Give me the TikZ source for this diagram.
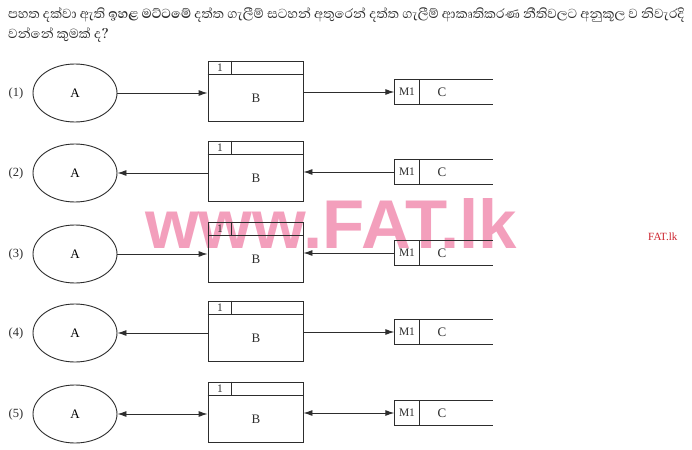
\documentclass[tikz,border=0pt]{standalone}
\usepackage{fontspec}
\setmainfont{Liberation Serif}
\newfontfamily\sinhala[Script=Sinhala]{Abhaya Libre}
\newfontfamily\wmfont{Liberation Sans}
\usetikzlibrary{shapes.geometric,arrows.meta}
\definecolor{ink}{RGB}{45,45,45}
\definecolor{wmpink}{RGB}{240,135,172}
\definecolor{fatred}{RGB}{205,35,45}
\tikzset{
  extern/.style={ellipse, draw=ink, line width=0.9pt, minimum width=84pt, minimum height=58pt, inner sep=0pt, font=\fontsize{13}{13}\selectfont},
  procbox/.style={draw=ink, line width=0.9pt, minimum width=95pt, minimum height=60pt, inner sep=0pt},
  storebox/.style={minimum width=98pt, minimum height=24pt, inner sep=0pt},
  thinline/.style={draw=ink, line width=0.9pt},
  flow/.style={draw=ink, line width=0.9pt, -{Latex[length=9pt,width=6pt]}},
  bflow/.style={draw=ink, line width=0.9pt, {Latex[length=9pt,width=6pt]}-{Latex[length=9pt,width=6pt]}},
  rowlabel/.style={font=\fontsize{12.5}{12.5}\selectfont, text=ink},
  lbl/.style={font=\fontsize{13}{13}\selectfont, text=ink, inner sep=0pt},
  smalllbl/.style={font=\fontsize{11.5}{11.5}\selectfont, text=ink, inner sep=0pt},
  question/.style={anchor=base west, inner sep=0pt, text=ink, font=\sinhala\fontsize{16.8}{16.8}\selectfont},
}
\newcommand{\dfdrow}[2]{% #1 = index, #2 = y
  \node[rowlabel] (L#1) at (16,#2+1) {(#1)};
  \node[extern] (A#1) at (75,#2+1) {A};
  \node[procbox] (B#1) at (255.5,#2-1) {};
  \draw[thinline] ([yshift=-14pt]B#1.north west) -- ([yshift=-14pt]B#1.north east);
  \draw[thinline] ([xshift=24pt]B#1.north west) -- ([xshift=24pt,yshift=-14pt]B#1.north west);
  \node[smalllbl] (N#1) at (220,#2-24) {1};
  \node[lbl] (BT#1) at (256,#2+6) {B};
  \node[storebox] (S#1) at (443.5,#2) {};
  \draw[thinline] (S#1.north east) -- (S#1.north west) -- (S#1.south west) -- (S#1.south east);
  \draw[thinline] ([xshift=25pt]S#1.north west) -- ([xshift=25pt]S#1.south west);
  \node[smalllbl] (M#1) at (407,#2) {M1};
  \node[lbl] (C#1) at (442,#2) {C};
}
\begin{document}
\begin{tikzpicture}[x=1pt,y=-1pt]
\useasboundingbox (0,0) rectangle (692,449);
\fill[white] (0,0) rectangle (692,449);
% watermark
\node[anchor=base, text=wmpink, font=\wmfont\bfseries\fontsize{69}{69}\selectfont, inner sep=0pt, opacity=0.8] (wm) at (331,248) {www.FAT.lk};
\node[anchor=base west, text=fatred, font=\fontsize{11}{11}\selectfont, inner sep=0pt] (fat) at (648,240) {FAT.lk};
% question
\node[question] (q1) at (8,19) {පහත දක්වා ඇති \textbf{ඉහළ මට්ටමේ} දත්ත ගැලීම් සටහන් අතුරෙන් දත්ත ගැලීම් ආකෘතිකරණ නීතිවලට අනුකූල ව නිවැරදි};
\node[question] (q2) at (8,39) {වන්නේ කුමක් ද?};
% rows
\dfdrow{1}{92}
\dfdrow{2}{172}
\dfdrow{3}{253}
\dfdrow{4}{332}
\dfdrow{5}{413}
% flows
\draw[flow] (A1.east) -- (A1.east -| B1.west);
\draw[flow] (S1.west -| B1.east) -- (S1.west);
\draw[flow] (A2.east -| B2.west) -- (A2.east);
\draw[flow] (S2.west) -- (S2.west -| B2.east);
\draw[flow] (A3.east) -- (A3.east -| B3.west);
\draw[flow] (S3.west) -- (S3.west -| B3.east);
\draw[flow] (A4.east -| B4.west) -- (A4.east);
\draw[flow] (S4.west -| B4.east) -- (S4.west);
\draw[bflow] (A5.east) -- (A5.east -| B5.west);
\draw[bflow] (S5.west -| B5.east) -- (S5.west);
\end{tikzpicture}
\end{document}
